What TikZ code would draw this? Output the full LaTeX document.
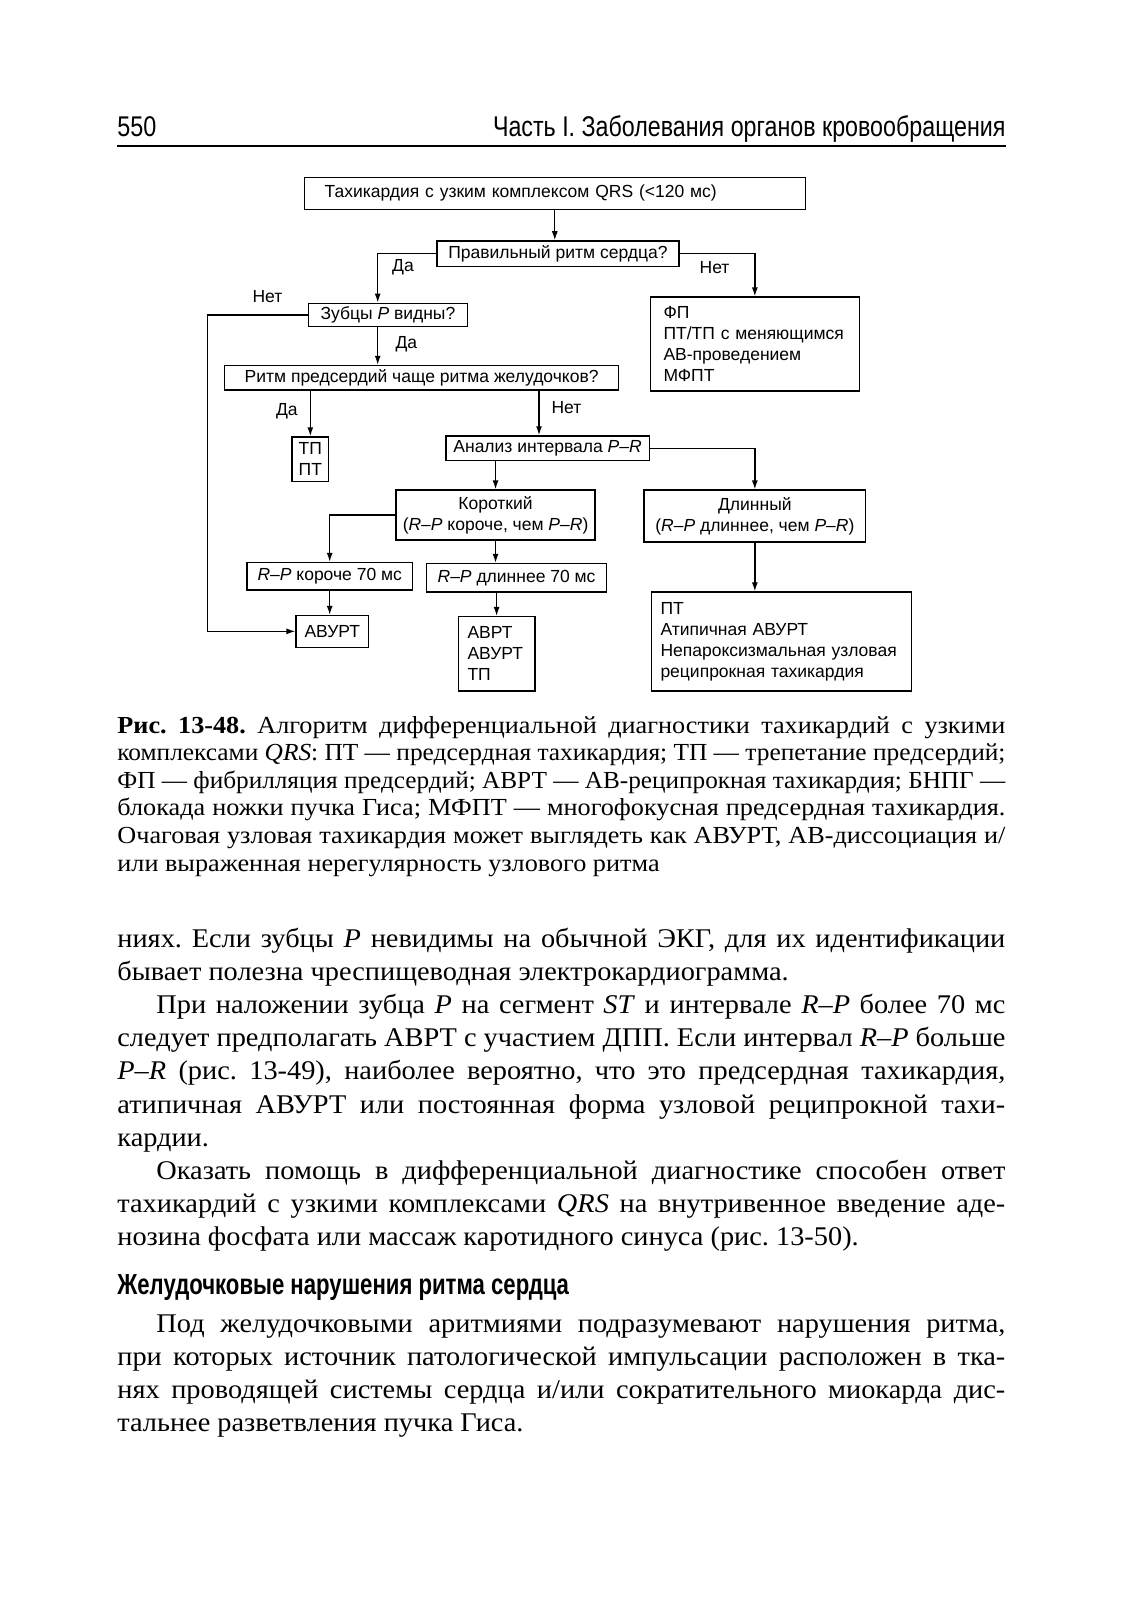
\documentclass[tikz,border=0pt]{standalone}
\usepackage{fontspec}
\usepackage{graphicx}
\setmainfont{Liberation Serif}
\newfontfamily\bodyserif[FakeStretch=1.05]{Liberation Serif}
\newfontfamily\capserif[FakeStretch=1.07]{Liberation Serif}
\newfontfamily\flowsans{Liberation Sans}
\usetikzlibrary{arrows.meta,calc}
\newsavebox\myjlbox
\newcommand{\jl}[2]{\sbox\myjlbox{#2}\ifdim\wd\myjlbox>#1pt\relax\resizebox{#1pt}{\height}{#2}\else\makebox[#1pt][s]{#2}\fi}
\frenchspacing
\begin{document}
\frenchspacing
\begin{tikzpicture}[x=1pt,y=-1pt,
  box/.style={draw, line width=1.3pt, inner sep=0pt, font=\flowsans\fontsize{17.5}{21}\selectfont, align=center},
  lbox/.style={box, align=left},
  lab/.style={inner sep=0pt, font=\flowsans\fontsize{17.5}{21}\selectfont},
  arr/.style={-{Latex[length=9pt,width=6pt]}, line width=1.3pt},
  txtline/.style={anchor=base west, inner sep=0pt, outer sep=0pt},
  bodyf/.style={font=\bodyserif\fontsize{27}{33}\selectfont},
  capf/.style={font=\capserif\fontsize{24.5}{27.6}\selectfont}]
\fill[white] (0,0) rectangle (1129,1600);
\useasboundingbox (0,0) rectangle (1129,1600);

% ---------- header ----------
\node[txtline, font=\flowsans\fontsize{28.5}{30}\selectfont] (pgno) at (117.4,137) {\resizebox{39pt}{\height}{550}};
\node[txtline, anchor=base east, font=\flowsans\fontsize{28.5}{30}\selectfont] (runhead) at (1005.5,137) {\resizebox{512.5pt}{\height}{Часть I. Заболевания органов кровообращения}};
\draw[line width=1.5pt] (117.4,146) -- (1005.5,146);

% ---------- flowchart ----------
\node[lbox, text width=460.4pt, inner xsep=20.4pt, minimum height=31.6] (qrs) at (554.8,193.4) {Тахикардия с узким комплексом QRS (<120 мс)};
\node[box, minimum width=241.9, minimum height=25.5] (rhythm) at (557.9,253.6) {Правильный ритм сердца?};
\node[box, minimum width=159.2, minimum height=23.5] (pwave) at (387.9,315) {Зубцы \textit{P} видны?};
\node[box, minimum width=394, minimum height=24.6] (atrial) at (421.6,377.7) {Ритм предсердий чаще ритма желудочков?};
\node[lbox, text width=182.7pt, inner xsep=13.3pt, minimum height=94] (af) at (754.85,344) {\raisebox{-3pt}{\parbox{182.7pt}{ФП\\ПТ/ТП с меняющимся\\АВ-проведением\\МФПТ}}};
\node[box, minimum width=36.7, minimum height=44.9] (tppt) at (310.35,459.35) {ТП\\ПТ};
\node[box, minimum width=203.2, minimum height=24.5] (prana) at (547.6,448.15) {Анализ интервала \textit{P–R}};
\node[box, minimum width=199.1, minimum height=50] (short) at (495.55,515) {Короткий\\(\textit{R–P} короче, чем \textit{P–R})};
\node[box, minimum width=221.5, minimum height=52] (long) at (754.85,516) {Длинный\\(\textit{R–P} длиннее, чем \textit{P–R})};
\node[box, minimum width=165.4, minimum height=27.5] (rpshort) at (329.7,576.25) {\textit{R–P} короче 70 мс};
\node[box, minimum width=179.7, minimum height=28.5] (rplong) at (516.55,577.75) {\textit{R–P} длиннее 70 мс};
\node[box, minimum width=72.5, minimum height=31.7] (avurt) at (332.25,631.35) {АВУРТ};
\node[lbox, text width=58.2pt, inner xsep=9.2pt, minimum height=74.5] (avrt) at (496.6,653.85) {АВРТ\\АВУРТ\\ТП};
\node[lbox, text width=241.9pt, inner xsep=9.2pt, minimum height=99.1] (ptbox) at (781.45,641.55) {ПТ\\Атипичная АВУРТ\\Непароксизмальная узловая\\реципрокная тахикардия};

\coordinate (xL) at (377.7,0);
\coordinate (xFar) at (207.2,0);
\coordinate (xN) at (539,0);

\draw[arr] (qrs.south) -- (qrs.south |- rhythm.north);
\draw[arr] (rhythm.west) -| (xL |- pwave.north);
\draw[arr] (rhythm.east) -| (af.north);
\draw[arr] (pwave.west) -| (xFar |- avurt.west) -- (avurt.west);
\draw[arr] (xL |- pwave.south) -- (xL |- atrial.north);
\draw[arr] (tppt.north |- atrial.south) -- (tppt.north);
\draw[arr] (xN |- atrial.south) -- (xN |- prana.north);
\draw[arr] (short.north |- prana.south) -- (short.north);
\draw[arr] (prana.east) -| (long.north);
\draw[arr] (short.west) -| (rpshort.north);
\draw[arr] (short.south) -- (short.south |- rplong.north);
\draw[arr] (rpshort.south) -- (rpshort.south |- avurt.north);
\draw[arr] (avrt.north |- rplong.south) -- (avrt.north);
\draw[arr] (long.south) -- (long.south |- ptbox.north);

\node[lab] (l1) at (403,267.5) {Да};
\node[lab] (l2) at (714.6,267.5) {Нет};
\node[lab] (l3) at (267.5,297) {Нет};
\node[lab] (l4) at (406.3,344) {Да};
\node[lab] (l5) at (286.8,411.4) {Да};
\node[lab] (l6) at (566.5,407.3) {Нет};

% ---------- caption ----------
\node[txtline, capf] (c1) at (117.4,733) {\jl{888}{\textbf{Рис. 13-48.} Алгоритм дифференциальной диагностики тахикардий с узкими}};
\node[txtline, capf] (c2) at (117.4,760.6) {\jl{888}{комплексами \textit{QRS}: ПТ — предсердная тахикардия; ТП — трепетание предсердий;}};
\node[txtline, capf] (c3) at (117.4,788.2) {\jl{888}{ФП — фибрилляция предсердий; АВРТ — АВ-реципрокная тахикардия; БНПГ —}};
\node[txtline, capf] (c4) at (117.4,815.8) {\jl{888}{блокада ножки пучка Гиса; МФПТ — многофокусная предсердная тахикардия.}};
\node[txtline, capf] (c5) at (117.4,843.4) {\jl{888}{Очаговая узловая тахикардия может выглядеть как АВУРТ, АВ-диссоциация и/}};
\node[txtline, capf] (c6) at (117.4,871) {или выраженная нерегулярность узлового ритма};

% ---------- body ----------
\node[txtline, bodyf] (t1) at (117.4,947) {\jl{888}{ниях. Если зубцы \textit{P} невидимы на обычной ЭКГ, для их идентификации}};
\node[txtline, bodyf] (t2) at (117.4,980.2) {бывает полезна чреспищеводная электрокардиограмма.};
\node[txtline, bodyf] (t3) at (156.4,1013.4) {\jl{849}{При наложении зубца \textit{P} на сегмент \textit{ST} и интервале \textit{R–P} более 70 мс}};
\node[txtline, bodyf] (t4) at (117.4,1046.6) {\jl{888}{следует предполагать АВРТ с участием ДПП. Если интервал \textit{R–P} больше}};
\node[txtline, bodyf] (t5) at (117.4,1079.8) {\jl{888}{\textit{P–R} (рис. 13-49), наиболее вероятно, что это предсердная тахикардия,}};
\node[txtline, bodyf] (t6) at (117.4,1113) {\jl{888}{атипичная АВУРТ или постоянная форма узловой реципрокной тахи-}};
\node[txtline, bodyf] (t7) at (117.4,1146.2) {кардии.};
\node[txtline, bodyf] (t8) at (156.4,1179.4) {\jl{849}{Оказать помощь в дифференциальной диагностике способен ответ}};
\node[txtline, bodyf] (t9) at (117.4,1212.6) {\jl{888}{тахикардий с узкими комплексами \textit{QRS} на внутривенное введение аде-}};
\node[txtline, bodyf] (t10) at (117.4,1245.8) {нозина фосфата или массаж каротидного синуса (рис. 13-50).};
\node[txtline, font=\flowsans\bfseries\fontsize{29}{30}\selectfont] (head) at (117.4,1294) {\resizebox{451.6pt}{\height}{Желудочковые нарушения ритма сердца}};
\node[txtline, bodyf] (t11) at (156.4,1332) {\jl{849}{Под желудочковыми аритмиями подразумевают нарушения ритма,}};
\node[txtline, bodyf] (t12) at (117.4,1365.2) {\jl{888}{при которых источник патологической импульсации расположен в тка-}};
\node[txtline, bodyf] (t13) at (117.4,1398.4) {\jl{888}{нях проводящей системы сердца и/или сократительного миокарда дис-}};
\node[txtline, bodyf] (t14) at (117.4,1431.6) {тальнее разветвления пучка Гиса.};
\end{tikzpicture}
\end{document}
